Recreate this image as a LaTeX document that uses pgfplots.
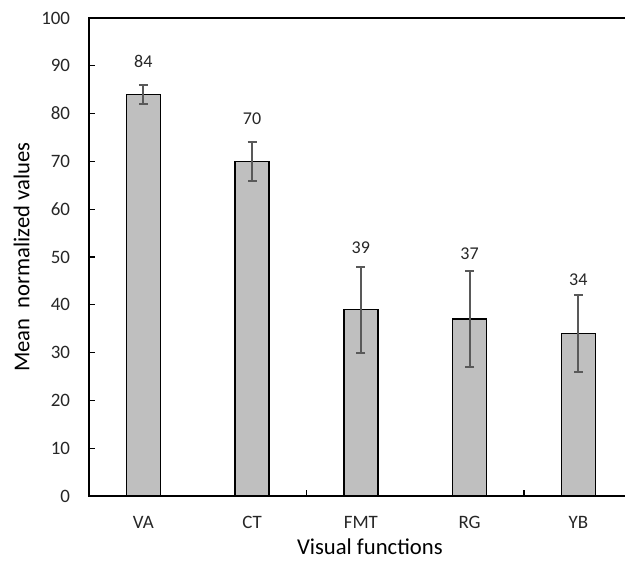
\documentclass[border=0pt]{standalone}
\usepackage{pgfplots}
\pgfplotsset{compat=1.18}
\usepackage{fontspec}
\setmainfont{Carlito}
\definecolor{barfill}{HTML}{BFBFBF}
\definecolor{errgray}{HTML}{595959}
\begin{document}
\begin{tikzpicture}
\path[use as bounding box] (-66.75pt,-48.75pt) rectangle (402pt,372pt);
\begin{axis}[
  at={(0,0)}, anchor=south west,
  scale only axis,
  width=407.8pt, height=358.5pt,
  xmin=-0.5, xmax=4.5,
  ymin=0, ymax=100,
  ytick={0,10,...,100},
  xtick={0,1,2,3,4},
  xticklabels={VA,CT,FMT,RG,YB},
  x tick style={draw=none},
  extra x ticks={1.5,3.5},
  extra x tick labels={},
  extra x tick style={x tick style={draw=black, line width=1pt}},
  xtick pos=bottom, ytick pos=left,
  tick align=inside,
  major tick length=4.5pt,
  y tick style={black, line width=1pt},
  axis line style={black, line width=1pt},
  /pgf/number format/assume math mode=true,
  ticklabel style={font=\fontsize{14.2}{16}\selectfont, text=black!85},
  yticklabel style={anchor=east, inner sep=0pt, xshift=-14pt},
  xticklabel style={anchor=north, inner sep=0pt, yshift=-15pt},
  xlabel={Visual functions},
  ylabel={Mean\ \ normalized values},
  label style={font=\fontsize{17}{20}\selectfont},
  xlabel style={at={(axis description cs:0.5,0)}, anchor=north, inner sep=0pt, yshift=-32pt, xshift=6.75pt},
  ylabel style={at={(axis description cs:0,0.5)}, anchor=center, inner sep=0pt, yshift=50.6pt},
]
\addplot[ybar, bar width=25.5pt, fill=barfill, draw=black, line width=1pt,
  error bars/.cd, y dir=both, y explicit,
  error bar style={errgray, line width=1.5pt},
  error mark options={rotate=90, mark size=3.4pt, errgray, line width=1.5pt}]
  coordinates {
  (0,84) +- (0,2)
  (1,70) +- (0,4)
  (2,39) +- (0,9)
  (3,37) +- (0,10)
  (4,34) +- (0,8)
  };
\addplot[draw=none, mark=none, point meta=explicit,
  nodes near coords={\pgfmathprintnumber{\pgfplotspointmeta}},
  every node near coord/.append style={anchor=base, inner sep=0pt, font=\fontsize{13.5}{16}\selectfont, text=black!85}]
  coordinates {
  (0,89.7) [84]
  (1,77.8) [70]
  (2,50.8) [39]
  (3,49.4) [37]
  (4,44.1) [34]
  };
\end{axis}
\end{tikzpicture}
\end{document}
